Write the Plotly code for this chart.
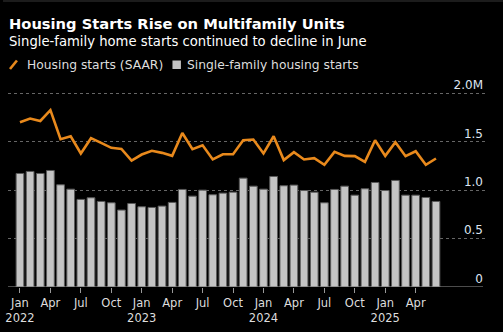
import plotly.graph_objects as go

months = ["Jan 2022","Feb 2022","Mar 2022","Apr 2022","May 2022","Jun 2022","Jul 2022","Aug 2022","Sep 2022","Oct 2022","Nov 2022","Dec 2022",
          "Jan 2023","Feb 2023","Mar 2023","Apr 2023","May 2023","Jun 2023","Jul 2023","Aug 2023","Sep 2023","Oct 2023","Nov 2023","Dec 2023",
          "Jan 2024","Feb 2024","Mar 2024","Apr 2024","May 2024","Jun 2024","Jul 2024","Aug 2024","Sep 2024","Oct 2024","Nov 2024","Dec 2024",
          "Jan 2025","Feb 2025","Mar 2025","Apr 2025","May 2025","Jun 2025"]

housing_starts = [1.703,1.741,1.716,1.827,1.527,1.558,1.380,1.538,1.489,1.438,1.427,1.307,
                  1.369,1.407,1.386,1.355,1.592,1.424,1.465,1.318,1.372,1.372,1.517,1.524,
                  1.380,1.558,1.311,1.393,1.318,1.331,1.262,1.396,1.355,1.352,1.293,1.517,
                  1.355,1.496,1.352,1.403,1.262,1.328]

single_family = [1.173,1.194,1.173,1.204,1.056,1.011,0.905,0.922,0.884,0.870,0.795,0.863,
                 0.829,0.822,0.836,0.874,1.008,0.939,1.001,0.953,0.970,0.980,1.125,1.042,
                 1.011,1.142,1.046,1.053,0.997,0.980,0.870,1.008,1.042,0.949,1.015,1.080,
                 0.997,1.101,0.949,0.949,0.925,0.884]

x_tick_idx = list(range(0, 42, 3))
x_tick_text = ["Jan<br>2022","Apr","Jul","Oct","Jan<br>2023","Apr","Jul","Oct",
               "Jan<br>2024","Apr","Jul","Oct","Jan<br>2025","Apr"]
y_tick_vals = [0, 0.5, 1.0, 1.5, 2.0]
y_tick_text = ["0", "0.5", "1.0", "1.5", "2.0M"]

idx = list(range(len(months)))

W, H = 503, 332
L, R, T, B = 5, 17, 77, 45
PW, PH = W - L - R, H - T - B

def px(xp):
    return (xp - L) / PW

def py(yp):
    return (H - B - yp) / PH

fig = go.Figure()
fig.add_trace(go.Bar(x=idx, y=single_family, name="Single-family housing starts",
                     marker=dict(color="#c4c4c4", line=dict(color="#5a5a5a", width=1)),
                     width=0.76, hovertext=months))
fig.add_trace(go.Scatter(x=idx, y=housing_starts, name="Housing starts (SAAR)", mode="lines",
                         line=dict(color="#e8891c", width=2.6), hovertext=months))

font = "DejaVu Sans"
annotations = [
    dict(text="<b>Housing Starts Rise on Multifamily Units</b>", x=px(4), y=py(23), xref="paper", yref="paper",
         xanchor="left", yanchor="middle", showarrow=False, font=dict(family=font, size=14.7, color="#ffffff")),
    dict(text="Single-family home starts continued to decline in June", x=px(4), y=py(42), xref="paper", yref="paper",
         xanchor="left", yanchor="middle", showarrow=False, font=dict(family=font, size=13.2, color="#ffffff")),
    dict(text="Housing starts (SAAR)", x=px(22), y=py(64.5), xref="paper", yref="paper",
         xanchor="left", yanchor="middle", showarrow=False, font=dict(family=font, size=12.3, color="#dddddd")),
    dict(text="Single-family housing starts", x=px(183), y=py(64.5), xref="paper", yref="paper",
         xanchor="left", yanchor="middle", showarrow=False, font=dict(family=font, size=12.3, color="#dddddd")),
]

shapes = [
    dict(type="line", xref="paper", yref="paper", x0=px(7), y0=py(69), x1=px(14), y1=py(60.5),
         line=dict(color="#e8891c", width=2.6)),
    dict(type="rect", xref="paper", yref="paper", x0=px(170.5), y0=py(69), x1=px(179), y1=py(60.5),
         fillcolor="#c4c4c4", line=dict(width=0)),
    dict(type="rect", xref="paper", yref="paper", x0=px(456), y0=0.02, x1=px(465), y1=1,
         fillcolor="#000000", line=dict(width=0), layer="between"),
    dict(type="rect", xref="paper", yref="paper", x0=px(483.5), y0=-0.01, x1=1, y1=1,
         fillcolor="#000000", line=dict(width=0), layer="between"),
    dict(type="line", xref="paper", yref="y", x0=0, y0=0, x1=px(483), y1=0,
         line=dict(color="#999999", width=1), layer="above"),
    dict(type="rect", xref="paper", yref="paper", x0=px(0), y0=py(2), x1=px(503), y1=py(0),
         fillcolor="#1c1c1c", line=dict(width=0)),
]

fig.update_layout(
    width=W, height=H,
    margin=dict(l=L, r=R, t=T, b=B),
    paper_bgcolor="#000000", plot_bgcolor="#000000",
    showlegend=False,
    annotations=annotations,
    shapes=shapes,
    xaxis=dict(range=[-1.18, 45.93], tickmode="array", tickvals=x_tick_idx, ticktext=x_tick_text,
               ticks="outside", ticklen=5, tickcolor="#999999", showgrid=False, zeroline=False,
               showline=False,
               tickfont=dict(family=font, size=11.5, color="#dddddd")),
    yaxis=dict(range=[0, 2.17], side="right", tickmode="array", tickvals=y_tick_vals, ticktext=y_tick_text,
               ticklabelposition="inside top", showgrid=True, gridcolor="#666666", griddash="dot",
               gridwidth=1, zeroline=False, ticks="", showline=False,
               tickfont=dict(family=font, size=12, color="#dde4f0")),
)

fig.write_html("out.html")
